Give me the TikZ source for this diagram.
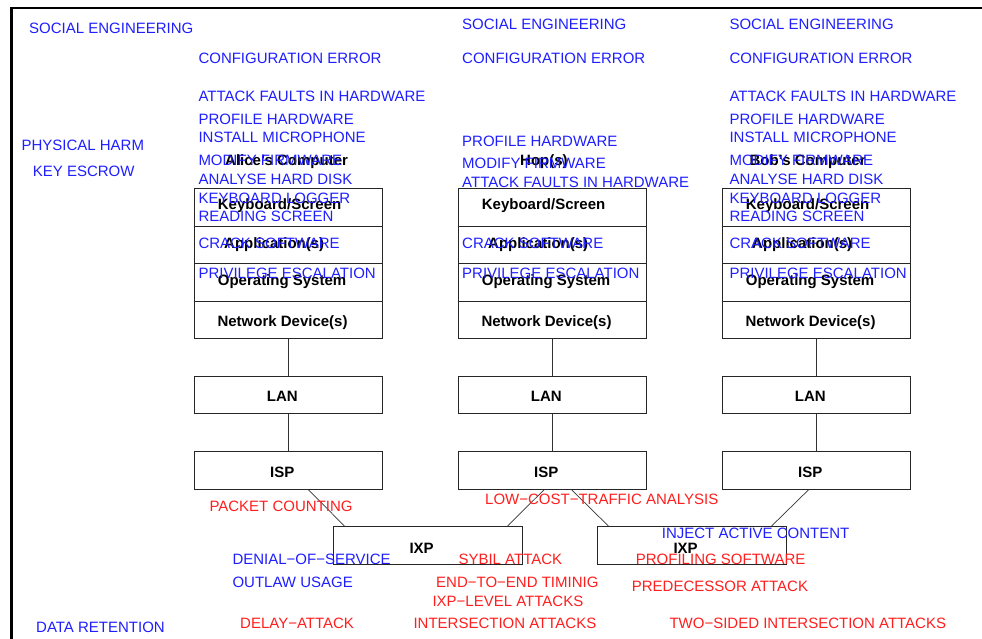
\documentclass[tikz,border=0pt]{standalone}
\usepackage{fontspec}
\setmainfont{Liberation Sans}
\usetikzlibrary{calc}
\definecolor{atkblue}{RGB}{30,30,255}
\definecolor{atkred}{RGB}{255,30,30}
\newcommand\diagfont{\fontsize{15pt}{18pt}\selectfont}
\begin{document}
\begin{tikzpicture}[x=1pt,y=-1pt,
  every node/.style={font=\diagfont},
  layer/.style={draw=black!85, line width=0.8pt, minimum width=188pt,
    minimum height=37.5pt, inner sep=0pt, anchor=north west},
  hub/.style={layer, minimum width=189pt, minimum height=38pt},
  lbl/.style={anchor=base west, inner sep=0pt, font=\diagfont\bfseries, text=black},
  bt/.style={anchor=base west, inner sep=0pt, text=atkblue},
  rt/.style={anchor=base west, inner sep=0pt, text=atkred},
  wire/.style={draw=black!80, line width=0.7pt}]
\useasboundingbox (0,0) rectangle (982,639);

% frame
\draw[line width=2.5pt] (11.3,639) -- (11.3,7.8) -- (982,7.8);

% layer stacks of the two end hosts and the hop
\foreach \c/\x in {A/194,H/458,B/722}{
  \node[layer] (kb\c)  at (\x,188)   {};
  \node[layer] (app\c) at (\x,225.5) {};
  \node[layer] (os\c)  at (\x,263)   {};
  \node[layer] (net\c) at (\x,300.5) {};
  \node[layer, minimum height=37.3pt] (lan\c) at (\x,375.7) {};
  \node[layer, minimum height=37.4pt] (isp\c) at (\x,451.3) {};
  \node[lbl] (kb\c-t)  at ($(kb\c.north west)+(23.7,22)$)   {Keyboard/Screen};
  \node[lbl] (app\c-t) at ($(app\c.north west)+(30,22.5)$)  {Application(s)};
  \node[lbl] (os\c-t)  at ($(os\c.north west)+(23.7,22.7)$) {Operating System};
  \node[lbl] (net\c-t) at ($(net\c.north west)+(23.3,26.2)$) {Network Device(s)};
  \node[lbl] (lan\c-t) at ($(lan\c.north west)+(72.7,26)$)  {LAN};
  \node[lbl] (isp\c-t) at ($(isp\c.north west)+(76,26.4)$)  {ISP};
  \draw[wire] (net\c.south) -- (lan\c.north);
  \draw[wire] (lan\c.south) -- (isp\c.north);
}

% exchange points
\node[hub] (ixpL) at (333,526) {};
\node[hub] (ixpR) at (597,526) {};
\node[lbl] (ixpL-t) at (409.3,553.3) {IXP};
\node[lbl] (ixpR-t) at (673.3,553.3) {IXP};

\draw[wire] ($(ispA.south west)!0.605!(ispA.south east)$) -- ($(ixpL.north west)!0.06!(ixpL.north east)$);
\draw[wire] ($(ispH.south west)!0.457!(ispH.south east)$) -- ($(ixpL.north west)!0.92!(ixpL.north east)$);
\draw[wire] ($(ispH.south west)!0.60!(ispH.south east)$) -- ($(ixpR.north west)!0.06!(ixpR.north east)$);
\draw[wire] ($(ispB.south west)!0.46!(ispB.south east)$) -- ($(ixpR.north west)!0.92!(ixpR.north east)$);

% titles
\node[lbl] (tA) at (225,165.5)   {Alice's Computer};
\node[lbl] (tH) at (520,165.7)   {Hop(s)};
\node[lbl] (tB) at (749.3,165.5) {Bob's Computer};

% attacks along the left margin
\node[bt] (m1) at (29,33.3)    {SOCIAL ENGINEERING};
\node[bt] (m2) at (21.3,150.7) {PHYSICAL HARM};
\node[bt] (m3) at (32.7,176.7) {KEY ESCROW};
\node[bt] (m4) at (36,632)     {DATA RETENTION};

% attacks on Alice's computer
\node[bt] (a1)  at (198.3,63.3)  {CONFIGURATION ERROR};
\node[bt] (a2)  at (198.3,101.7) {ATTACK FAULTS IN HARDWARE};
\node[bt] (a3)  at (198.3,124.5) {PROFILE HARDWARE};
\node[bt] (a4)  at (198.3,142.5) {INSTALL MICROPHONE};
\node[bt] (a5)  at (198.3,165.7) {MODIFY FIRMWARE};
\node[bt] (a6)  at (198.3,184.3) {ANALYSE HARD DISK};
\node[bt] (a7)  at (198.3,203.3) {KEYBOARD LOGGER};
\node[bt] (a8)  at (198.3,221.7) {READING SCREEN};
\node[bt] (a9)  at (198.3,248.7) {CRACK SOFTWARE};
\node[bt] (a10) at (198.3,278.3) {PRIVILEGE ESCALATION};

% attacks on the hops
\node[bt] (h1) at (462,29.3)  {SOCIAL ENGINEERING};
\node[bt] (h2) at (462,63.3)  {CONFIGURATION ERROR};
\node[bt] (h3) at (462,146.7) {PROFILE HARDWARE};
\node[bt] (h4) at (462,168.7) {MODIFY FIRMWARE};
\node[bt] (h5) at (462,188)   {ATTACK FAULTS IN HARDWARE};
\node[bt] (h6) at (462,248.7) {CRACK SOFTWARE};
\node[bt] (h7) at (462,278.3) {PRIVILEGE ESCALATION};

% attacks on Bob's computer
\node[bt] (b0)  at (729.3,29.3)  {SOCIAL ENGINEERING};
\node[bt] (b1)  at (729.3,63.3)  {CONFIGURATION ERROR};
\node[bt] (b2)  at (729.3,101.7) {ATTACK FAULTS IN HARDWARE};
\node[bt] (b3)  at (729.3,124.5) {PROFILE HARDWARE};
\node[bt] (b4)  at (729.3,142.5) {INSTALL MICROPHONE};
\node[bt] (b5)  at (729.3,165.7) {MODIFY FIRMWARE};
\node[bt] (b6)  at (729.3,184.3) {ANALYSE HARD DISK};
\node[bt] (b7)  at (729.3,203.3) {KEYBOARD LOGGER};
\node[bt] (b8)  at (729.3,221.7) {READING SCREEN};
\node[bt] (b9)  at (729.3,248.7) {CRACK SOFTWARE};
\node[bt] (b10) at (729.3,278.3) {PRIVILEGE ESCALATION};

% attacks on the network
\node[rt] (n1)  at (209.3,511)   {PACKET COUNTING};
\node[rt] (n2)  at (485,504.3)   {LOW−COST−TRAFFIC ANALYSIS};
\node[bt] (n3)  at (661.7,538.3) {INJECT ACTIVE CONTENT};
\node[bt] (n4)  at (232.3,564)   {DENIAL−OF−SERVICE};
\node[rt] (n5)  at (458.3,564)   {SYBIL ATTACK};
\node[rt] (n6)  at (635.7,564)   {PROFILING SOFTWARE};
\node[bt] (n7)  at (232.3,587.3) {OUTLAW USAGE};
\node[rt] (n8)  at (436,587.3)   {END−TO−END TIMINIG};
\node[rt] (n9)  at (631.7,591)   {PREDECESSOR ATTACK};
\node[rt] (n10) at (432.3,606.7) {IXP−LEVEL ATTACKS};
\node[rt] (n11) at (240,628.3)   {DELAY−ATTACK};
\node[rt] (n12) at (413.3,628.3) {INTERSECTION ATTACKS};
\node[rt] (n13) at (669.3,628.3) {TWO−SIDED INTERSECTION ATTACKS};
\end{tikzpicture}
\end{document}
